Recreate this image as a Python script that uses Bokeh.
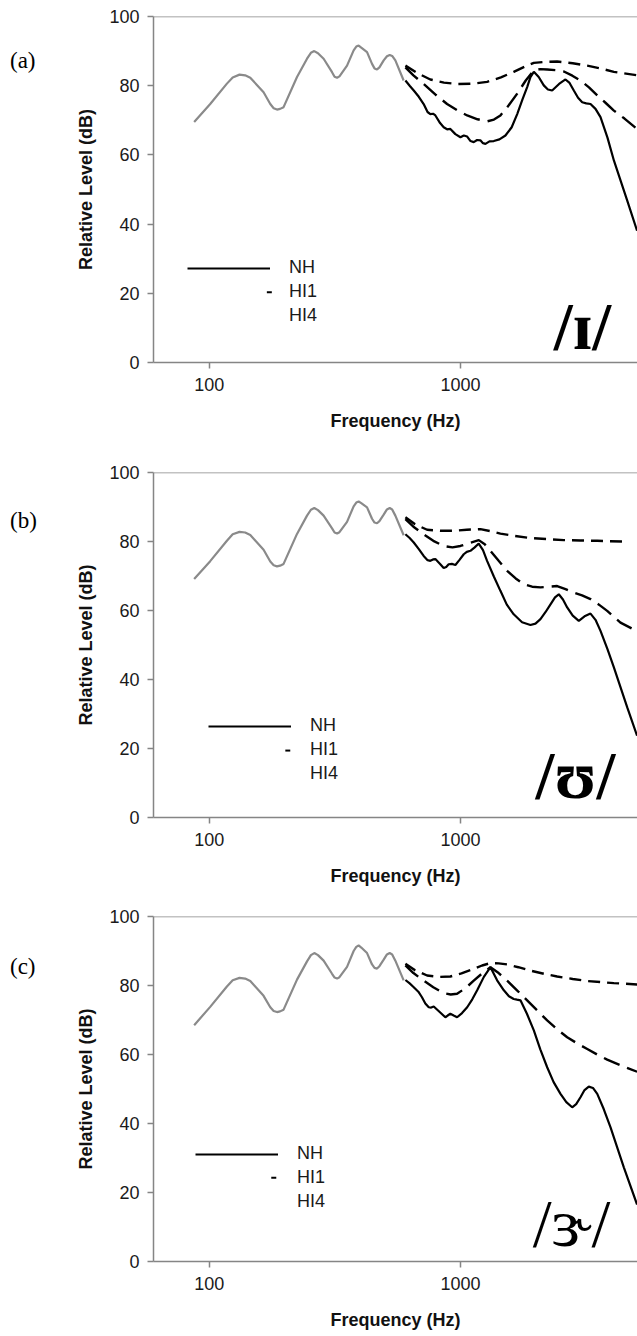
from bokeh.plotting import figure
from bokeh.models import Range1d, FixedTicker, Span, Legend, LegendItem, Div
from bokeh.layouts import column, row
from bokeh.embed import file_html
from bokeh.resources import INLINE
from bokeh.core.properties import value

# ---------------- data ----------------
PANEL_TAGS = ["(a)", "(b)", "(c)"]
VOWELS = ["/ɪ/", "/ʊ/", "/ɝ/"]
SERIES_NAMES = ["NH", "HI1", "HI4"]
X_TICKS = [100, 1000]
Y_TICKS = [0, 20, 40, 60, 80, 100]

# unprocessed low-frequency part (grey), Hz
GRAY_F = [87.1, 100.9, 117.6, 124.0, 132.0, 139.0, 145.7, 164.6, 175.0, 180.5, 186.1, 191.5, 197.7,
          223.6, 245.1, 254.0, 262.0, 271.0, 285.4, 308.3, 315.5, 322.8, 330.0, 353.7, 375.8, 385.0,
          393.4, 403.0, 424.9, 444.8, 455.0, 465.7, 476.0, 494.9, 510.0, 523.0, 535.0, 550.8, 594.4]
GRAY_A = [69.5, 74.7, 80.6, 82.4, 83.2, 83.0, 82.3, 78.1, 74.7, 73.5, 73.1, 73.3, 73.8,
          82.5, 87.8, 89.5, 90.0, 89.4, 87.8, 83.9, 82.6, 82.3, 82.7, 85.8, 90.2, 91.3,
          91.6, 91.0, 89.7, 86.3, 85.0, 84.7, 85.3, 87.3, 88.5, 88.9, 88.6, 87.3, 81.5]
GRAY_B = [69.1, 74.3, 80.2, 82.1, 82.8, 82.6, 81.9, 77.6, 74.2, 73.1, 72.8, 73.0, 73.5,
          82.2, 87.5, 89.2, 89.7, 89.1, 87.5, 83.8, 82.6, 82.3, 82.7, 85.7, 90.2, 91.3,
          91.6, 91.1, 89.9, 86.6, 85.5, 85.3, 85.9, 87.8, 89.3, 89.7, 89.3, 87.5, 81.8]
GRAY_C = [68.5, 73.8, 79.7, 81.5, 82.2, 82.0, 81.3, 77.0, 73.7, 72.6, 72.3, 72.5, 73.0,
          81.7, 87.0, 88.8, 89.4, 88.8, 87.2, 83.4, 82.3, 82.0, 82.4, 85.4, 90.0, 91.2,
          91.6, 91.0, 89.4, 86.1, 85.1, 84.9, 85.6, 87.5, 89.0, 89.4, 89.0, 87.2, 81.5]

# panel (a) /ɪ/
NH_A_F = [604, 628, 652, 683, 714, 740, 759, 778, 795, 830, 858, 885, 912, 955, 1000, 1032, 1064,
          1097, 1130, 1165, 1201, 1230, 1258, 1305, 1358, 1430, 1511, 1600, 1683, 1765, 1844, 1900,
          1960, 2050, 2147, 2230, 2319, 2470, 2620, 2720, 2828, 2940, 3054, 3170, 3296, 3450, 3612,
          3850, 4083, 4615, 5050]
NH_A = [81.5, 80.0, 78.6, 76.8, 74.7, 72.4, 71.8, 71.9, 71.4, 69.2, 68.0, 67.4, 67.5, 66.0, 65.1,
        65.6, 65.3, 64.0, 63.7, 64.3, 64.2, 63.4, 63.2, 63.9, 64.0, 64.5, 65.6, 68.0, 71.8, 76.0,
        79.6, 82.5, 84.0, 82.5, 80.1, 78.9, 78.6, 80.5, 81.8, 80.8, 78.6, 76.5, 75.2, 74.9, 74.7,
        73.3, 70.9, 65.0, 58.4, 46.8, 38.1]
HI1_A_F = [604, 650, 714, 800, 885, 975, 1064, 1170, 1277, 1360, 1443, 1560, 1683, 1820, 1960,
           2080, 2215, 2400, 2582, 2790, 3006, 3250, 3506, 3790, 4083, 4500, 5050]
HI1_A = [85.3, 83.0, 80.5, 77.3, 74.7, 72.8, 71.4, 70.3, 69.7, 70.2, 71.4, 74.4, 77.7, 81.5, 84.4,
         84.8, 84.7, 84.5, 84.1, 82.9, 81.5, 79.5, 77.2, 75.0, 72.8, 70.5, 67.5]
HI4_A_F = [604, 680, 759, 860, 970, 1120, 1277, 1450, 1630, 1800, 1960, 2180, 2427, 2800, 3199,
           3600, 4083, 5050]
HI4_A = [85.8, 83.5, 81.8, 80.9, 80.5, 80.6, 81.1, 82.4, 84.0, 85.5, 86.6, 86.9, 87.0, 86.5,
         85.8, 85.0, 84.0, 83.0]

# panel (b) /ʊ/
NH_B_F = [604, 628, 652, 683, 714, 740, 759, 778, 795, 830, 858, 878, 898, 925, 955, 990, 1031,
          1060, 1096, 1140, 1183, 1230, 1277, 1360, 1443, 1530, 1630, 1760, 1900, 1990, 2083, 2180,
          2284, 2380, 2464, 2560, 2661, 2800, 2960, 3120, 3296, 3450, 3612, 3850, 4083, 4615, 5050]
NH_B = [82.1, 81.0, 79.7, 77.8, 75.8, 74.6, 74.4, 74.8, 74.9, 73.5, 72.3, 72.6, 73.4, 73.5, 73.2,
        74.6, 76.3, 77.0, 77.3, 78.3, 79.4, 77.5, 74.4, 69.8, 65.7, 61.7, 58.9, 56.6, 55.8, 56.2,
        57.5, 59.5, 61.8, 63.8, 64.7, 63.2, 60.9, 58.5, 57.0, 58.3, 59.1, 57.3, 54.1, 48.8, 43.5,
        31.9, 23.7]
HI1_B_F = [604, 650, 714, 780, 858, 930, 1000, 1090, 1183, 1250, 1317, 1420, 1535, 1660, 1788,
           1930, 2083, 2250, 2427, 2620, 2828, 3050, 3296, 3560, 3840, 4338, 5050]
HI1_B = [86.5, 84.3, 82.1, 80.2, 78.7, 78.3, 78.7, 79.6, 80.4, 79.2, 77.3, 74.4, 71.5, 69.3, 67.6,
         66.9, 66.7, 66.9, 67.1, 66.2, 65.2, 64.4, 63.3, 61.7, 59.9, 56.5, 54.0]
HI4_B_F = [604, 660, 737, 830, 940, 1060, 1201, 1320, 1443, 1650, 1900, 2200, 2582, 3000, 3506,
           3900, 4406]
HI4_B = [87.0, 85.0, 83.4, 83.1, 83.1, 83.4, 83.6, 83.0, 82.3, 81.6, 81.0, 80.7, 80.4, 80.3,
         80.2, 80.1, 80.0]

# panel (c) /ɝ/
NH_C_F = [604, 628, 652, 680, 703, 725, 748, 765, 783, 825, 871, 890, 912, 940, 970, 1015, 1064,
          1115, 1166, 1240, 1317, 1400, 1489, 1560, 1630, 1680, 1734, 1840, 1960, 2080, 2215, 2350,
          2503, 2640, 2786, 2890, 3006, 3120, 3244, 3370, 3506, 3720, 3960, 4473, 5050]
NH_C = [81.6, 80.6, 79.5, 78.2, 76.6, 74.8, 73.7, 73.6, 73.9, 72.4, 70.8, 71.3, 71.8, 71.3, 70.8,
        72.0, 73.7, 76.0, 78.6, 82.5, 85.3, 81.5, 78.6, 76.9, 76.1, 75.9, 75.7, 71.8, 67.0, 61.5,
        56.3, 52.0, 48.6, 46.2, 44.7, 45.6, 47.6, 49.7, 50.7, 50.3, 48.6, 44.2, 38.9, 27.3, 16.5]
HI1_C_F = [604, 650, 714, 780, 858, 915, 970, 1050, 1130, 1220, 1317, 1420, 1535, 1680, 1844,
           2020, 2215, 2430, 2661, 2920, 3199, 3500, 3840, 4300, 5050]
HI1_C = [85.8, 83.6, 81.4, 79.5, 77.8, 77.4, 77.6, 79.3, 81.4, 83.5, 85.3, 83.6, 81.4, 78.6, 75.7,
         72.8, 69.9, 67.3, 65.0, 63.2, 61.6, 60.0, 58.5, 57.0, 55.0]
HI4_C_F = [604, 660, 737, 820, 912, 1010, 1130, 1220, 1317, 1420, 1535, 1700, 1900, 2150, 2427,
           2800, 3199, 3600, 4083, 5050]
HI4_C = [86.3, 84.4, 82.9, 82.5, 82.6, 83.5, 84.8, 85.8, 86.5, 86.4, 86.1, 85.3, 84.3, 83.4,
         82.6, 81.9, 81.3, 81.0, 80.7, 80.3]

# ---------------- styling / layout ----------------
SANS = "Liberation Sans"
SERIF = "Liberation Serif"
AXIS_GREY = "#858585"
CURVE_GREY = "#8a8a8a"
TAG_W = 40

PANELS = [
    dict(tag=PANEL_TAGS[0], vowel=VOWELS[0], gray=GRAY_A,
         nh=(NH_A_F, NH_A), hi1=(HI1_A_F, HI1_A), hi4=(HI4_A_F, HI4_A),
         height=460, top=16, bottom=98, leg=(34, 36), dash=((169.6, 177.5), 20.3),
         vowel_at=(3060, 10.5), vowel_style="bold"),
    dict(tag=PANEL_TAGS[1], vowel=VOWELS[1], gray=GRAY_B,
         nh=(NH_B_F, NH_B), hi1=(HI1_B_F, HI1_B), hi4=(HI4_B_F, HI4_B),
         height=446, top=12, bottom=89, leg=(55, 33), dash=((200.9, 210.2), 19.4),
         vowel_at=(2870, 12.2), vowel_style="bold"),
    dict(tag=PANEL_TAGS[2], vowel=VOWELS[2], gray=GRAY_C,
         nh=(NH_C_F, NH_C), hi1=(HI1_C_F, HI1_C), hi4=(HI4_C_F, HI4_C),
         height=428, top=10, bottom=73, leg=(42, 49), dash=((176.6, 184.9), 24.3),
         vowel_at=(2770, 11.2), vowel_style="normal"),
]


def make_panel(cfg):
    p = figure(width=637 - TAG_W, height=cfg["height"], x_axis_type="log",
               x_range=Range1d(60, 5070), y_range=Range1d(0, 100),
               output_backend="svg", toolbar_location=None,
               min_border_left=153 - TAG_W, min_border_right=0,
               min_border_top=cfg["top"], min_border_bottom=cfg["bottom"])
    p.grid.visible = False
    p.outline_line_color = None
    p.background_fill_color = "white"
    p.border_fill_color = "white"

    p.add_layout(Span(location=100, dimension="width", line_color=AXIS_GREY, line_width=1.5))

    for ax in (p.xaxis[0], p.yaxis[0]):
        ax.axis_line_color = AXIS_GREY
        ax.axis_line_width = 1.5
        ax.major_tick_line_color = AXIS_GREY
        ax.major_tick_line_width = 1.5
        ax.major_tick_out = 6
        ax.major_tick_in = 0
        ax.minor_tick_line_color = None
        ax.major_label_text_font = SANS
        ax.major_label_text_font_size = "18px"
        ax.major_label_text_color = "#1a1a1a"
        ax.axis_label_text_font = SANS
        ax.axis_label_text_font_size = "18px"
        ax.axis_label_text_font_style = "bold"
        ax.axis_label_text_color = "#111111"

    p.xaxis.ticker = FixedTicker(ticks=X_TICKS)
    p.xaxis.major_label_overrides = {t: str(t) for t in X_TICKS}
    p.xaxis.axis_label = "Frequency (Hz)"
    p.xaxis.major_label_standoff = 9
    p.xaxis.axis_label_standoff = 17

    p.yaxis.ticker = FixedTicker(ticks=Y_TICKS)
    p.yaxis.axis_label = "Relative Level (dB)"
    p.yaxis.major_label_standoff = 8
    p.yaxis.axis_label_standoff = 10

    p.line(GRAY_F, cfg["gray"], line_color=CURVE_GREY, line_width=2.2)
    r_nh = p.line(cfg["nh"][0], cfg["nh"][1], line_color="black", line_width=2.2)
    p.line(cfg["hi1"][0], cfg["hi1"][1], line_color="black", line_width=2.4, line_dash="17 8")
    p.line(cfg["hi4"][0], cfg["hi4"][1], line_color="black", line_width=2.4, line_dash="12 7")

    # legend: NH sample, HI1 shown only by a short dash, HI4 without sample (as in the original)
    r_hi1_leg = p.line([], [], line_color="black", line_alpha=0)
    r_hi4_leg = p.line([], [], line_color="black", line_alpha=0)
    legend = Legend(items=[LegendItem(label=SERIES_NAMES[0], renderers=[r_nh]),
                           LegendItem(label=SERIES_NAMES[1], renderers=[r_hi1_leg]),
                           LegendItem(label=SERIES_NAMES[2], renderers=[r_hi4_leg])],
                    location=cfg["leg"], orientation="vertical",
                    glyph_width=83, glyph_height=20, label_height=20,
                    label_standoff=19, spacing=3, padding=0, margin=0,
                    border_line_color=None, background_fill_alpha=0,
                    label_text_font=SANS, label_text_font_size="18px",
                    label_text_color="#1a1a1a")
    p.add_layout(legend)
    (dx0, dx1), dy = cfg["dash"]
    p.segment(x0=[dx0], y0=[dy], x1=[dx1], y1=[dy], line_color="black", line_width=2)

    vx, vy = cfg["vowel_at"]
    p.text(x=[vx], y=[vy], text=[cfg["vowel"]], text_font=value(SERIF),
           text_font_size="68px", text_font_style=cfg["vowel_style"],
           text_align="center", text_baseline="alphabetic", text_color="black")

    tag = Div(text=cfg["tag"], width=TAG_W, height=cfg["height"], margin=0,
              styles={"font-family": SERIF, "font-size": "23px", "color": "black",
                      "padding-left": "10px", "padding-top": "48px",
                      "box-sizing": "border-box", "line-height": "26px"})
    return row(tag, p, spacing=0)


rows = [make_panel(c) for c in PANELS]
layout = column(*rows, spacing=0)
open("out.html", "w").write(file_html(layout, INLINE))
